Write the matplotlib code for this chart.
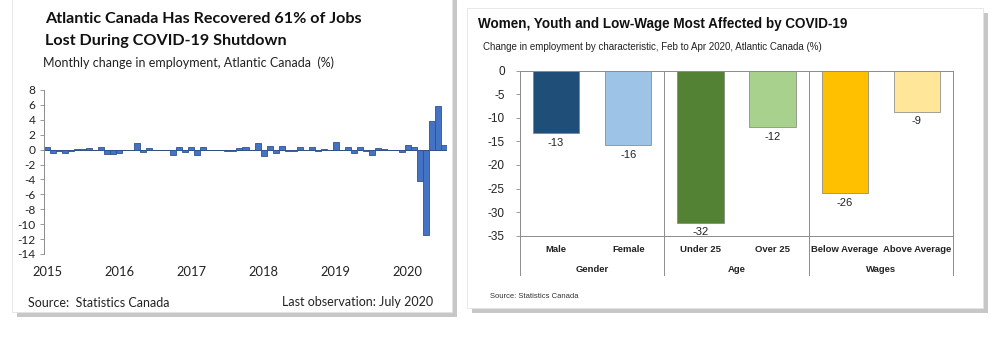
import matplotlib.pyplot as plt
from matplotlib.patches import Rectangle
import numpy as np

# left chart: monthly change in employment, Jan 2015 .. Jul 2020 (%)
monthly_change = [
    0.4, -0.5, -0.2, -0.4, -0.2, 0.1, 0.1, 0.2, -0.1, 0.4, -0.6, -0.6,   # 2015
    -0.5, 0.0, 0.0, 0.9, -0.3, 0.2, 0.0, 0.0, -0.1, -0.7, 0.4, -0.3,     # 2016
    0.4, -0.7, 0.4, 0.0, 0.0, -0.1, -0.2, -0.2, 0.2, 0.4, 0.0, 0.9,      # 2017
    -0.8, 0.5, -0.4, 0.5, -0.2, -0.2, 0.3, -0.1, 0.3, -0.2, 0.1, 0.0,    # 2018
    1.0, 0.0, 0.3, -0.5, 0.3, -0.2, -0.7, 0.2, 0.1, 0.0, -0.1, -0.3,     # 2019
    0.6, 0.4, -4.2, -11.4, 3.9, 5.9, 0.6,                                 # 2020
]
year_labels = ['2015', '2016', '2017', '2018', '2019', '2020']
left_yticks = [8, 6, 4, 2, 0, -2, -4, -6, -8, -10, -12, -14]

# right chart: change Feb to Apr 2020 (%)
categories = ['Male', 'Female', 'Under 25', 'Over 25', 'Below Average', 'Above Average']
groups = ['Gender', 'Age', 'Wages']
changes = [-13.3, -15.8, -32.2, -11.9, -25.9, -8.7]
bar_colors = ['#1F4E79', '#9DC3E6', '#548235', '#A9D18E', '#FFC000', '#FFE699']
right_yticks = [0, -5, -10, -15, -20, -25, -30, -35]

W, H = 1002, 348
fig = plt.figure(figsize=(W / 100, H / 100), dpi=100)
fig.patch.set_facecolor('white')


def panel(x0, y0, x1, y1):
    # drop shadow + white card, pixel coords from top-left
    shadow = Rectangle(((x0 + 5) / W, 1 - (y1 + 5) / H), (x1 - x0) / W, (y1 - y0) / H,
                       transform=fig.transFigure, facecolor='#9a9a9a', edgecolor='none',
                       alpha=0.55, zorder=-2)
    card = Rectangle((x0 / W, 1 - y1 / H), (x1 - x0) / W, (y1 - y0) / H,
                     transform=fig.transFigure, facecolor='white', edgecolor='#e4e4e4',
                     lw=0.6, zorder=-1)
    fig.patches.extend([shadow, card])


panel(12, -10, 452, 312)
panel(467, 8, 983, 308)

# ---------- left chart ----------
calibri = ['Lato', 'DejaVu Sans']
axL = fig.add_axes([44 / W, 1 - 254 / H, (447 - 44) / W, (254 - 90) / H])
axL.set_facecolor('none')
x = np.arange(len(monthly_change))
axL.bar(x, monthly_change, width=1.0, color='#4472C4', edgecolor='#2F528F', linewidth=0.6, zorder=2)
axL.axhline(0, color='#404040', lw=0.7, zorder=1)
axL.set_ylim(-14, 8)
axL.set_xlim(-0.5, len(monthly_change) - 0.5)
axL.set_yticks(left_yticks)
axL.set_yticklabels([str(v) for v in left_yticks], family=calibri, fontsize=8.6, color='#222222')
axL.set_xticks(np.arange(0, len(monthly_change), 12))
axL.set_xticklabels(year_labels, family=calibri, fontsize=9.3, color='#222222')
axL.tick_params(axis='x', length=0, pad=9)
axL.tick_params(axis='y', length=3, width=0.6, color='#8c8c8c', pad=3)
for s in ['top', 'right', 'bottom']:
    axL.spines[s].set_visible(False)
axL.spines['left'].set_color('#8c8c8c')
axL.spines['left'].set_linewidth(0.7)

fig.text(45 / W, 1 - 19 / H, 'Atlantic Canada Has Recovered 61% of Jobs', family=calibri,
         fontsize=11.6, fontweight='bold', color='#111111', va='center')
fig.text(45 / W, 1 - 41 / H, 'Lost During COVID-19 Shutdown', family=calibri,
         fontsize=11.6, fontweight='bold', color='#111111', va='center')
fig.text(43 / W, 1 - 63 / H, 'Monthly change in employment, Atlantic Canada  (%)', family=calibri,
         fontsize=9, color='#222222', va='center')
fig.text(28 / W, 1 - 303 / H, 'Source:  Statistics Canada', family=calibri,
         fontsize=9, color='#222222', va='center')
fig.text(433 / W, 1 - 302 / H, 'Last observation: July 2020', family=calibri,
         fontsize=9, color='#222222', va='center', ha='right')

# ---------- right chart ----------
arial = ['Liberation Sans', 'DejaVu Sans']
axR = fig.add_axes([520 / W, 1 - 235.7 / H, (953 - 520) / W, (235.7 - 70.7) / H])
axR.set_facecolor('none')
pos = np.arange(len(categories)) + 0.5
axR.bar(pos, changes, width=0.64, color=bar_colors, edgecolor='#7f7f7f', linewidth=0.5, zorder=2)
for p, v in zip(pos, changes):
    axR.text(p, v - 1.0, f'{round(v):d}', ha='center', va='top', family=arial,
             fontsize=8, color='#222222')
axR.set_xlim(0, len(categories))
axR.set_ylim(-35, 0)
axR.set_yticks(right_yticks)
axR.set_yticklabels([str(v) for v in right_yticks], family=arial, fontsize=8.5, color='#222222')
axR.tick_params(axis='y', length=3, width=0.6, color='#8c8c8c', pad=8)
axR.set_xticks([])
for s in axR.spines.values():
    s.set_color('#8c8c8c')
    s.set_linewidth(0.7)

# group separators, running through the label area below the plot
trans = axR.get_xaxis_transform()
for sep in [0, 2, 4, 6]:
    axR.plot([sep, sep], [1, -0.24], transform=trans, color='#8c8c8c', lw=0.7, clip_on=False, zorder=3)
for p, c in zip(pos, categories):
    axR.text(p, -0.085, c, transform=trans, ha='center', va='center', family=arial,
             fontsize=6.8, fontweight='bold', color='#222222')
for i, g in enumerate(groups):
    axR.text(2 * i + 1, -0.205, g, transform=trans, ha='center', va='center', family=arial,
             fontsize=6.8, fontweight='bold', color='#222222')

fig.text(478 / W, 1 - 24 / H, 'Women, Youth and Low-Wage Most Affected by COVID-19', family=arial,
         fontsize=9.75, fontweight='bold', color='#111111', va='center')
fig.text(483 / W, 1 - 47 / H, 'Change in employment by characteristic, Feb to Apr 2020, Atlantic Canada (%)',
         family=arial, fontsize=7, color='#222222', va='center')
fig.text(490 / W, 1 - 296 / H, 'Source: Statistics Canada', family=arial,
         fontsize=5.5, color='#333333', va='center')

fig.savefig('out.png', dpi=100, facecolor='white')
